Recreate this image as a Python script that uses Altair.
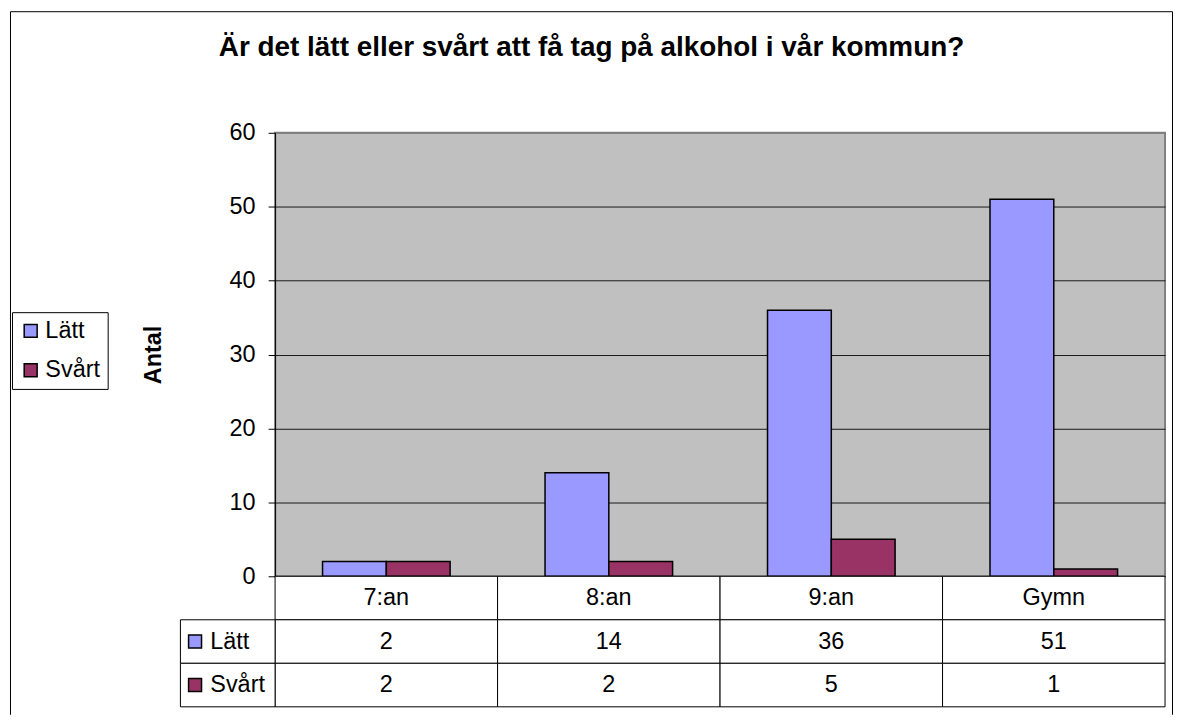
import altair as alt
import pandas as pd

# ---- data ----
categories = ["7:an", "8:an", "9:an", "Gymn"]
series = ["Lätt", "Svårt"]
latt = [2, 14, 36, 51]
svart = [2, 2, 5, 1]
colors = ["#9999FF", "#993366"]
title_text = "Är det lätt eller svårt att få tag på alkohol i vår kommun?"
y_ticks = [0, 10, 20, 30, 40, 50, 60]
row_names = ["kat", "Lätt", "Svårt"]

FONT = "Liberation Sans"
FS = 23.5
W, H = 893, 445

# ---- tables built from the arrays ----
bars_df = pd.DataFrame(
    [{"cat": c, "series": "Lätt", "value": v} for c, v in zip(categories, latt)]
    + [{"cat": c, "series": "Svårt", "value": v} for c, v in zip(categories, svart)]
)
table_df = pd.DataFrame(
    [{"cat": c, "row": "kat", "text": c} for c in categories]
    + [{"cat": c, "row": "Lätt", "text": str(v)} for c, v in zip(categories, latt)]
    + [{"cat": c, "row": "Svårt", "text": str(v)} for c, v in zip(categories, svart)]
)
left_df = pd.DataFrame([{"col": "lbl", "row": s, "text": s} for s in series])
frame_df = pd.DataFrame({"fx": [0, 0, 1, 1], "fy": [1, 0, 0, 1], "o": [0, 1, 2, 3]})

x_scale = alt.Scale(domain=categories, paddingInner=0, paddingOuter=0)
row_scale = alt.Scale(domain=row_names, range=[H, H + 131], paddingInner=0, paddingOuter=0)
left_scale = alt.Scale(domain=["lbl"], range=[-95, 0], paddingInner=0, paddingOuter=0)

# ---- outer frame ----
frame = alt.Chart(frame_df).mark_line(color="black", strokeWidth=1).encode(
    x=alt.X("fx:Q", scale=alt.Scale(domain=[0, 1], range=[-265.5, 900.5]), axis=None),
    y=alt.Y("fy:Q", scale=alt.Scale(domain=[0, 1], range=[-121.5, 584]), axis=None),
    order="o:Q",
)

# ---- bars ----
bars = alt.Chart(bars_df).mark_bar(stroke="black", strokeWidth=1.5).encode(
    x=alt.X("cat:N", scale=x_scale, sort=categories, axis=None),
    xOffset=alt.XOffset("series:N", scale=alt.Scale(domain=series, paddingInner=0, paddingOuter=0.744)),
    y=alt.Y(
        "value:Q",
        scale=alt.Scale(domain=[0, 60], nice=False),
        axis=alt.Axis(
            values=y_ticks,
            title="Antal",
            titleFontSize=FS,
            titleFont=FONT,
            titleFontWeight="bold",
            titleColor="black",
            titlePadding=64,
            labelFontSize=FS,
            labelFont=FONT,
            labelColor="black",
            labelPadding=13,
            tickSize=7,
            tickColor="black",
            domainColor="black",
            grid=True,
            gridColor={"condition": {"test": "datum.value === 60", "value": "#808080"}, "value": "#1a1a1a"},
            gridWidth=1,
        ),
    ),
    color=alt.Color(
        "series:N",
        scale=alt.Scale(domain=series, range=colors),
        legend=alt.Legend(
            orient="none",
            legendX=-264,
            legendY=180,
            title=None,
            strokeColor="black",
            fillColor="white",
            padding=7,
            rowPadding=14.5,
            symbolType="square",
            symbolSize=169,
            symbolStrokeColor="black",
            symbolStrokeWidth=1.5,
            symbolOpacity=1,
            labelFontSize=FS,
            labelFont=FONT,
            labelColor="black",
            labelOffset=3,
        ),
    ),
)

# ---- data table under the plot ----
table_cells = alt.Chart(table_df).mark_rect(fill="white", stroke="black", strokeWidth=1).encode(
    x=alt.X("cat:N", scale=x_scale, sort=categories, axis=None),
    y=alt.Y("row:N", scale=row_scale, sort=row_names, axis=None),
)
table_text = alt.Chart(table_df).mark_text(fontSize=FS, font=FONT, color="black").encode(
    x=alt.X("cat:N", scale=x_scale, sort=categories, axis=None),
    y=alt.Y("row:N", scale=row_scale, sort=row_names, axis=None),
    text="text:N",
)
table = alt.layer(table_cells, table_text)

left_cells = alt.Chart(left_df).mark_rect(fill="white", stroke="black", strokeWidth=1).encode(
    x=alt.X("col:N", scale=left_scale, axis=None),
    y=alt.Y("row:N", scale=row_scale, sort=row_names, axis=None),
)
left_swatch = alt.Chart(left_df).mark_square(
    size=169, xOffset=14.7, stroke="black", strokeWidth=1.5, opacity=1, filled=True
).encode(
    x=alt.X("col:N", scale=left_scale, axis=None, bandPosition=0),
    y=alt.Y("row:N", scale=row_scale, sort=row_names, axis=None),
    fill=alt.Fill("row:N", scale=alt.Scale(domain=series, range=colors), legend=None),
)
left_text = alt.Chart(left_df).mark_text(
    align="left", dx=30, fontSize=FS, font=FONT, color="black"
).encode(
    x=alt.X("col:N", scale=left_scale, axis=None, bandPosition=0),
    y=alt.Y("row:N", scale=row_scale, sort=row_names, axis=None),
    text="text:N",
)
left = alt.layer(left_cells, left_swatch, left_text)

chart = (
    alt.layer(frame, bars, table, left)
    .resolve_scale(x="independent", y="independent")
    .properties(
        width=W,
        height=H,
        padding=0,
        title=alt.Title(
            title_text,
            fontSize=28,
            font=FONT,
            fontWeight="bold",
            color="black",
            anchor="middle",
            frame="bounds",
            offset=-74,
            baseline="alphabetic",
        ),
    )
    .configure(font=FONT, background="white")
    .configure_view(fill="#C0C0C0", stroke="#808080", strokeWidth=2)
)

chart.save("out.html", embed_options={"renderer": "svg", "actions": False})
